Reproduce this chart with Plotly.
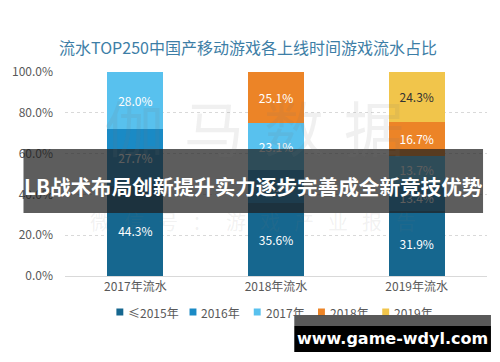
import plotly.graph_objects as go

categories = ["2017年流水", "2018年流水", "2019年流水"]
series_names = ["≤2015年", "2016年", "2017年", "2018年", "2019年"]
v_le2015 = [0.443, 0.356, 0.319]
v_2016 = [0.277, 0.162, 0.134]
v_2017 = [0.280, 0.231, 0.137]
v_2018 = [None, 0.251, 0.167]
v_2019 = [None, None, 0.243]
y_ticks = [0, 0.2, 0.4, 0.6, 0.8, 1.0]

series_values = [v_le2015, v_2016, v_2017, v_2018, v_2019]
colors = ["#16678f", "#1a8ac5", "#58c1ee", "#ec8427", "#f1c54b"]
text_colors = ["#ffffff", "#ffffff", "#ffffff", "#ffffff", "#333333"]

FONT = "Noto Sans CJK SC"
W, H = 500, 362
L, R, T, B = 60, 13, 72, 86
PW, PH = W - L - R, H - T - B


def px(x):
    return (x - L) / PW


def py(y):
    return (H - B - y) / PH


fig = go.Figure()
for name, vals, c, tc in zip(series_names, series_values, colors, text_colors):
    fig.add_trace(go.Bar(
        x=categories, y=vals, name=name,
        marker=dict(color=c, line=dict(width=0)),
        width=0.4,
        texttemplate="%{y:.1%}", textposition="inside",
        insidetextanchor="middle",
        textfont=dict(size=12, color=tc, family=FONT),
        hoverinfo="skip", showlegend=False,
    ))

fig.update_layout(
    width=W, height=H,
    barmode="stack",
    paper_bgcolor="white", plot_bgcolor="white",
    margin=dict(l=L, r=R, t=T, b=B),
    font=dict(family=FONT, size=12, color="#595959"),
    title=dict(text="流水TOP250中国产移动游戏各上线时间游戏流水占比",
               x=0.496, xanchor="center", y=(H - 48) / H, yanchor="middle",
               font=dict(size=16, color="#3d7ea6", family=FONT)),
    showlegend=False,
    xaxis=dict(showgrid=False, showline=True, linecolor="#d9d9d9", linewidth=1,
               ticks="", tickfont=dict(size=12, color="#595959")),
    yaxis=dict(range=[0, 1.0], tickvals=y_ticks, tickformat=".1%",
               showgrid=True, gridcolor="#d9d9d9", griddash="dot", gridwidth=1,
               zeroline=False, showline=False, ticks="", ticklabelstandoff=11,
               tickfont=dict(size=12, color="#595959")),
)

# legend (drawn manually for compact spacing)
legend_marker_x = [112, 186, 251, 316, 381]
for name, c, lx in zip(series_names, colors, legend_marker_x):
    fig.add_shape(type="rect", xref="paper", yref="paper",
                  x0=px(lx), x1=px(lx + 7), y0=py(315.5), y1=py(308.5),
                  fillcolor=c, line=dict(width=0))
    fig.add_annotation(text=name, xref="paper", yref="paper", x=px(lx + 10), y=py(312),
                       xanchor="left", yanchor="middle", showarrow=False,
                       font=dict(size=12, color="#595959", family=FONT))

# faint background watermarks
fig.add_annotation(text="\u2004".join("伽马数据"), xref="paper", yref="paper", x=px(251), y=py(125),
                   xanchor="center", yanchor="middle",
                   showarrow=False, font=dict(size=60, color="rgba(120,120,120,0.11)", family=FONT))
fig.add_annotation(text="\u2002\u2009".join("微信号：游戏产业报告"), xref="paper", yref="paper",
                   x=px(250), y=py(221), xanchor="center", yanchor="middle",
                   showarrow=False, font=dict(size=20, color="rgba(120,120,120,0.10)", family=FONT))

# overlay banner
fig.add_shape(type="rect", xref="paper", yref="paper", x0=px(18), x1=px(483),
              y0=py(213), y1=py(149), fillcolor="rgba(30,30,30,0.72)",
              line=dict(width=0), layer="above")
fig.add_annotation(text="<b>LB战术布局创新提升实力逐步完善成全新竞技优势</b>", xref="paper", yref="paper",
                   x=px(250.5), y=py(186), xanchor="center", yanchor="middle", showarrow=False,
                   font=dict(size=20.6, color="white", family=FONT))

# bottom-right site watermark
fig.add_shape(type="rect", xref="paper", yref="paper", x0=px(292), x1=px(491),
              y0=py(326), y1=py(315), fillcolor="rgba(60,60,60,0.85)",
              line=dict(width=0), layer="above")
fig.add_shape(type="rect", xref="paper", yref="paper", x0=px(292), x1=px(491),
              y0=py(352), y1=py(326), fillcolor="black",
              line=dict(width=0), layer="above")
fig.add_annotation(text="<b>www.game-wdyl.com</b>", xref="paper", yref="paper",
                   x=px(391), y=py(338), xanchor="center", yanchor="middle", showarrow=False,
                   font=dict(size=16, color="white", family="DejaVu Sans"))

fig.write_html("out.html", config={"displayModeBar": False},
               post_script="document.body.style.margin='0';")
